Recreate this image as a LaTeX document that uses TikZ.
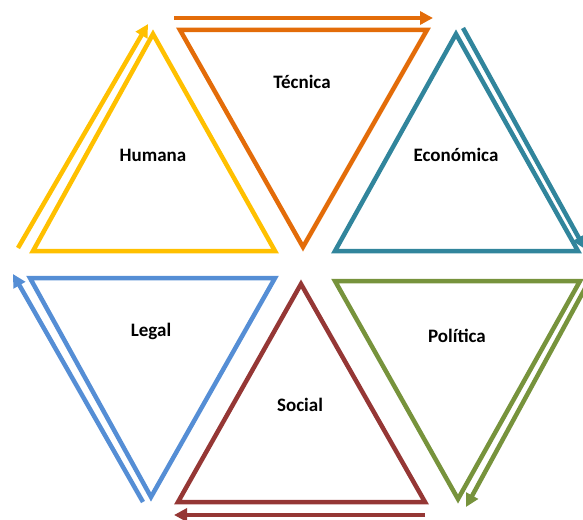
\documentclass[tikz,border=0pt]{standalone}
\usepackage{fontspec}
\setmainfont{Carlito}
\usetikzlibrary{arrows.meta}
\definecolor{cHumana}{HTML}{FFC000}
\definecolor{cTecnica}{HTML}{E36C09}
\definecolor{cEconomica}{HTML}{31859C}
\definecolor{cLegal}{HTML}{558ED5}
\definecolor{cSocial}{HTML}{953735}
\definecolor{cPolitica}{HTML}{77933C}
\tikzset{
	tri/.style={line width=4.5pt},
	arr/.style={line width=4.5pt,-{Triangle[length=13pt,width=13pt]}},
	lbl/.style={font=\fontsize{19}{22}\selectfont\bfseries}
}
\begin{document}
\begin{tikzpicture}[x=1pt,y=-1pt]
	\useasboundingbox (0,0) rectangle (583,519);
	
	% triangulos
	\draw[tri][cHumana](153,34)--(33,251)--(275,251)--cycle;
	\draw[tri][cTecnica](180,30)--(427,30)--(303,247)--cycle;
	\draw[tri][cEconomica](456,34)--(335,251)--(578,251)--cycle;
	\draw[tri][cLegal](30,278)--(275,278)--(151,497)--cycle;
	\draw[tri][cSocial](301,284)--(178,502)--(425,502)--cycle;
	\draw[tri][cPolitica](335,281)--(580,281)--(458,499)--cycle;
	
	% extremos de flechas
	\coordinate (h1) at (18,248);
	\coordinate (h2) at (148,24);
	\coordinate (t1) at (174,18);
	\coordinate (t2) at (433,18);
	\coordinate (e1) at (463,28);
	\coordinate (e2) at (585,249);
	\coordinate (l1) at (143,502);
	\coordinate (l2) at (13,274);
	\coordinate (s1) at (425,515);
	\coordinate (s2) at (174,515);
	\coordinate (p1) at (588,283);
	\coordinate (p2) at (466,507);
	
	\draw[arr][cHumana](h1)--(h2);
	\draw[arr][cTecnica](t1)--(t2);
	\draw[arr][cEconomica](e1)--(e2);
	\draw[arr][cLegal](l1)--(l2);
	\draw[arr][cSocial](s1)--(s2);
	\draw[arr][cPolitica](p1)--(p2);
	
	% textos
	\node[lbl] (humana) at (153,155) {Humana};
	\node[lbl] (tecnica) at (302,82) {Técnica};
	\node[lbl] (economica) at (456,155) {Económica};
	\node[lbl] (legal) at (151,331) {Legal};
	\node[lbl] (social) at (300,405) {Social};
	\node[lbl] (politica) at (457,336) {Política};
\end{tikzpicture}
\end{document}
